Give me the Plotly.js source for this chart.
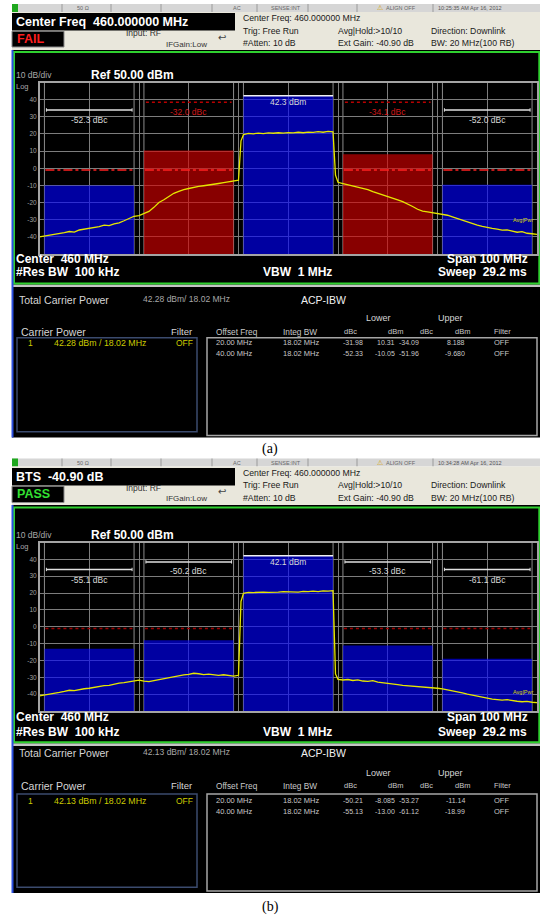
<!DOCTYPE html>
<html>
<head>
<meta charset="utf-8">
<script src="https://cdn.plot.ly/plotly-3.0.1.min.js"></script>
<style>
html,body{margin:0;padding:0;background:#ffffff;}
#chart{width:540px;height:917px;}
</style>
</head>
<body>
<div id="chart"></div>
<script>
// ================= DATA =================
const segmentCentersMHz = [420, 440, 460, 480, 500];
const integBwMHz = 18.02;
const limitDbm = -1;
const offsetFreqLabels = ['20.00 MHz', '40.00 MHz'];
const integBwLabels = ['18.02 MHz', '18.02 MHz'];
const filterLabels = ['OFF', 'OFF'];
const yTickVals = [40, 30, 20, 10, 0, -10, -20, -30, -40];
const yTickText = ['40', '30', '20', '10', '0', '-10', '-20', '-30', '-40'];

// panel (a)
const aCarrierDbm = 42.28;
const aLowerDbc = [-31.98, -52.33];
const aLowerDbm = [10.31, -10.05];
const aUpperDbc = [-34.09, -51.96];
const aUpperDbm = [8.188, -9.680];

// panel (b)
const bCarrierDbm = 42.13;
const bLowerDbc = [-50.21, -55.13];
const bLowerDbm = [-8.085, -13.00];
const bUpperDbc = [-53.27, -61.12];
const bUpperDbm = [-11.14, -18.99];

// spectrum traces
const traceFreqMHz = [410,411,412,413,414,415,416,417,418,419,420,421,422,423,424,425,426,427,428,429,430,
  431,432,433,434,435,436,437,438,439,440,441,442,443,444,445,446,447,448,449,450,450.5,
  451,452,453,454,455,456,457,458,459,460,461,462,463,464,465,466,467,468,469,469.5,
  470,471,472,473,474,475,476,477,478,479,480,481,482,483,484,485,486,487,488,489,490,
  491,492,493,494,495,496,497,498,499,500,501,502,503,504,505,506,507,508,509,510];
const aTraceDbm = [-40.0,-39.6,-39.0,-38.8,-38.0,-37.6,-36.9,-37.2,-36.0,-35.6,-35.2,-34.6,-34.0,-33.2,-33.5,-32.4,-31.8,-30.6,-29.5,-28.0,-27.6,
  -26.6,-25.2,-22.8,-20.0,-18.4,-16.3,-14.6,-13.5,-12.4,-11.8,-11.0,-10.6,-10.2,-9.9,-9.3,-8.9,-8.4,-7.9,-7.4,-7.0,16.0,
  19.6,20.3,20.1,20.5,20.2,20.6,20.4,20.7,20.5,20.8,20.6,21.0,20.7,21.1,20.9,21.3,21.0,21.5,21.2,-4.0,
  -8.2,-8.9,-9.6,-10.3,-11.0,-11.8,-12.5,-13.6,-14.5,-15.4,-16.3,-17.2,-18.4,-19.5,-20.8,-22.3,-23.9,-25.0,-25.4,-25.8,-26.2,
  -26.7,-27.4,-28.3,-29.3,-30.4,-31.4,-32.5,-33.2,-33.9,-34.6,-35.1,-35.5,-36.1,-36.0,-36.8,-37.3,-37.0,-37.9,-38.2,-38.5];
const bTraceDbm = [-41.0,-40.6,-40.2,-39.5,-39.0,-38.4,-37.7,-37.9,-37.2,-36.8,-36.5,-35.9,-35.6,-35.0,-34.8,-34.1,-33.5,-33.2,-32.6,-32.0,-31.7,
  -32.3,-32.6,-32.0,-31.4,-30.8,-30.2,-29.9,-29.0,-28.6,-28.3,-27.6,-27.9,-28.4,-28.1,-28.7,-28.9,-28.5,-29.1,-29.3,-28.8,15.0,
  19.8,20.4,20.3,20.6,20.5,20.4,20.7,20.6,20.8,20.7,20.9,20.6,21.0,20.8,21.1,20.9,21.3,21.1,21.4,-28.0,
  -31.2,-31.6,-31.3,-31.9,-31.5,-32.2,-32.4,-32.0,-32.8,-33.1,-33.5,-33.9,-34.3,-34.8,-35.0,-35.4,-35.6,-35.9,-36.1,-36.3,-36.5,
  -36.9,-37.4,-38.0,-38.6,-39.3,-40.0,-40.6,-41.3,-41.9,-42.4,-42.9,-43.2,-43.5,-43.3,-43.9,-44.2,-44.5,-44.3,-44.8,-45.0];

// ================= DRAWING =================
const FONT = 'Liberation Sans, Arial, sans-serif';
const W = 540, H = 917;
const PX = x => x / W;
const PY = y => 1 - y / H;
const shapes = [], annotations = [], traces = [];

function rect(x0, y0, x1, y1, fill, lineColor, lw, layer) {
  shapes.push({type:'rect', xref:'paper', yref:'paper', x0:PX(x0), x1:PX(x1), y0:PY(y1), y1:PY(y0),
    fillcolor: fill, line:{color: lineColor || 'rgba(0,0,0,0)', width: lw || 0}, layer: layer || 'below'});
}
function pline(x0, y0, x1, y1, color, w, layer) {
  shapes.push({type:'line', xref:'paper', yref:'paper', x0:PX(x0), x1:PX(x1), y0:PY(y0), y1:PY(y1),
    line:{color:color, width:w || 1}, layer: layer || 'below'});
}
function txt(x, y, text, size, color, anchor, family) {
  annotations.push({xref:'paper', yref:'paper', x:PX(x), y:PY(y), text:text, showarrow:false,
    xanchor: anchor || 'left', yanchor:'middle', borderpad:0,
    font:{family: family || FONT, size:size, color:color}});
}
function dline(xa, ya, x0, y0, x1, y1, color, w, dash, layer) {
  shapes.push({type:'line', xref:xa, yref:ya, x0:x0, x1:x1, y0:y0, y1:y1,
    line:{color:color, width:w, dash:dash || 'solid'}, layer: layer || 'above'});
}
const fmtDbm = v => v.toPrecision(4);

function drawScreen(p) {
  // status bar
  rect(12, p.st0, 540, p.st1, '#d6d6d6');
  rect(12, p.st0, 18, p.st1, '#1fa81f');
  [62, 111, 161, 212, 257, 308, 357, 433].forEach(x => pline(x, p.st0, x, p.st1, '#9a9a9a', 1));
  const sy = (p.st0 + p.st1) / 2;
  txt(76, sy, '50 Ω', 5.5, '#666');
  txt(232, sy, 'AC', 5.5, '#666');
  txt(270, sy, 'SENSE:INT', 5.5, '#666');
  txt(376, sy, '⚠', 7, '#d4a000');
  txt(385, sy, 'ALIGN OFF', 5.5, '#666');
  txt(437, sy, p.time, 5.5, '#555');
  // header
  rect(12, p.st1, 540, p.hd1, '#e9e7dc');
  rect(12, p.b0, 235, p.bm, '#000000');
  txt(15, (p.b0 + p.bm) / 2, '<b>' + p.boxText + '</b>', 12.5, '#ffffff');
  rect(12, p.bm + 0.7, 64, p.b1, '#000000', '#8a8a8a', 1);
  txt(15.5, (p.bm + p.b1) / 2 + 0.4, '<b>' + p.status + '</b>', 12.5, p.statusColor);
  txt(125, p.st1 + 21, 'Input: RF', 8.5, '#333');
  txt(165, p.st1 + 32, 'IFGain:Low', 8, '#333');
  txt(217, p.st1 + 25, '↩', 10, '#444', 'left', 'DejaVu Sans');
  txt(242, p.st1 + 6, 'Center Freq: 460.000000 MHz', 8.7, '#1a1a1a');
  txt(242, p.st1 + 19, 'Trig: Free Run', 8.7, '#1a1a1a');
  txt(242, p.st1 + 31, '#Atten: 10 dB', 8.7, '#1a1a1a');
  txt(337, p.st1 + 19, 'Avg|Hold:>10/10', 8.7, '#1a1a1a');
  txt(337, p.st1 + 31, 'Ext Gain: -40.90 dB', 8.7, '#1a1a1a');
  txt(430, p.st1 + 19, 'Direction: Downlink', 8.7, '#1a1a1a');
  txt(430, p.st1 + 31, 'BW: 20 MHz(100 RB)', 8.7, '#1a1a1a');
  // main black area
  rect(12, p.hd1, 540, p.tb1, '#000000');
  rect(12, p.g1 + 1, 540, p.g1 + 3.6, '#c4c4c4');
  rect(14, p.g0, 539.3, p.g1, 'rgba(0,0,0,0)', '#2fd02f', 2);
  pline(12.5, p.hd1, 12.5, p.tb1, '#2a4fe0', 2);
  // graph texts
  txt(15, p.div, '10 dB/div', 8.5, '#a8a8a8');
  txt(90, p.div, '<b>Ref 50.00 dBm</b>', 12, '#ffffff');
  txt(15, p.log, 'Log', 7.5, '#a8a8a8');
  txt(15, p.ctr, '<b>Center  460 MHz</b>', 12, '#ffffff');
  txt(15, p.res, '<b>#Res BW  100 kHz</b>', 12, '#ffffff');
  txt(262, p.res, '<b>VBW  1 MHz</b>', 12, '#ffffff');
  txt(446, p.ctr, '<b>Span 100 MHz</b>', 12, '#ffffff');
  txt(437, p.res, '<b>Sweep  29.2 ms</b>', 12, '#ffffff');
  // table
  txt(18, p.tcp, 'Total Carrier Power', 10.5, '#d6d6d6');
  txt(142, p.tcp - 1, p.carrier.toFixed(2) + ' dBm/ 18.02 MHz', 8.5, '#a8a8a8');
  txt(300, p.tcp, 'ACP-IBW', 10.5, '#f0f0f0');
  txt(365, p.low, 'Lower', 9, '#d6d6d6');
  txt(437, p.low, 'Upper', 9, '#d6d6d6');
  txt(20, p.hdr, 'Carrier Power', 10.5, '#d6d6d6');
  txt(170, p.hdr, 'Filter', 9.5, '#d6d6d6');
  txt(215, p.hdr, 'Offset Freq', 8.3, '#c8c8c8');
  txt(282, p.hdr, 'Integ BW', 8.3, '#c8c8c8');
  txt(358, p.hdr, 'dBc', 7.5, '#c8c8c8', 'right');
  txt(404, p.hdr, 'dBm', 7.5, '#c8c8c8', 'right');
  txt(434, p.hdr, 'dBc', 7.5, '#c8c8c8', 'right');
  txt(471, p.hdr, 'dBm', 7.5, '#c8c8c8', 'right');
  txt(493, p.hdr, 'Filter', 7.5, '#c8c8c8');
  rect(17, p.bx0, 197, p.bxL1, 'rgba(0,0,0,0)', '#3b4b6e', 1.5);
  rect(207, p.bx0, 537, p.bxR1, 'rgba(0,0,0,0)', '#a6a6a6', 1.5);
  txt(27, p.row0, '1', 8.5, '#cccc00');
  txt(53, p.row0, p.carrier.toFixed(2) + ' dBm / 18.02 MHz', 8.8, '#cccc00');
  txt(175, p.row0, 'OFF', 8.5, '#cccc00');
  [p.row0, p.row1].forEach((y, i) => {
    txt(215, y, offsetFreqLabels[i], 7.5, '#c8c8c8');
    txt(282, y, integBwLabels[i], 7.5, '#c8c8c8');
    txt(364, y, p.lowerDbc[i].toFixed(2), 7, '#c8c8c8', 'right');
    txt(396, y, fmtDbm(p.lowerDbm[i]), 7, '#c8c8c8', 'right');
    txt(420, y, p.upperDbc[i].toFixed(2), 7, '#c8c8c8', 'right');
    txt(466, y, fmtDbm(p.upperDbm[i]), 7, '#c8c8c8', 'right');
    txt(493, y, filterLabels[i], 7.5, '#c8c8c8');
  });
  txt(270, p.cap, p.caption, 14, '#000000', 'center', 'Liberation Serif, Times New Roman, serif');
}

function drawPanel(p, xa, ya) {
  const segDbm = [p.lowerDbm[1], p.lowerDbm[0], p.carrier, p.upperDbm[0], p.upperDbm[1]];
  const segDbc = [p.lowerDbc[1], p.lowerDbc[0], null, p.upperDbc[0], p.upperDbc[1]];
  const fail = segDbm.map((v, i) => i !== 2 && v > limitDbm);
  traces.push({type:'bar', x:segmentCentersMHz, y:segDbm.map(v => v + 50), base:-50, width:integBwMHz,
    xaxis:xa, yaxis:ya, hoverinfo:'skip',
    marker:{color: fail.map(f => f ? '#d80000' : '#0000ff'), opacity:0.63, line:{width:0}}});
  traces.push({type:'scatter', mode:'lines', x:traceFreqMHz, y:p.trace, xaxis:xa, yaxis:ya,
    hoverinfo:'skip', line:{color:'#e6e600', width:1.3}});
  segmentCentersMHz.forEach((c, i) => {
    const x0 = c - integBwMHz / 2, x1 = c + integBwMHz / 2;
    [x0, x1].forEach(x => dline(xa, ya, x, -50, x, 50, '#8c8c8c', 1, 'solid', 'below'));
    if (i === 2) {
      dline(xa, ya, x0, segDbm[i], x1, segDbm[i], '#f0f0f0', 1.6);
      annotations.push({xref:xa, yref:ya, x:c, y:38.5, text:segDbm[i].toFixed(1) + ' dBm', showarrow:false,
        font:{family:FONT, size:8.5, color:'#d8d8d8'}});
    } else {
      dline(xa, ya, x0 + 0.2, limitDbm, x1 - 0.2, limitDbm, p.limitColor, 1.5, p.limitDash);
      const outer = (i === 0 || i === 4);
      const my = outer ? 34 : 38.5;
      const col = fail[i] ? '#b80000' : '#e0e0e0';
      dline(xa, ya, x0 + 0.4, my, x1 - 0.4, my, col, 1.5, fail[i] ? 'dot' : 'solid');
      if (!fail[i]) {
        dline(xa, ya, x0 + 0.4, my - 1, x0 + 0.4, my + 1, col, 1);
        dline(xa, ya, x1 - 0.4, my - 1, x1 - 0.4, my + 1, col, 1);
      }
      annotations.push({xref:xa, yref:ya, x:c, y: outer ? 28 : 33, text:segDbc[i].toFixed(1) + ' dBc',
        showarrow:false, font:{family:FONT, size:8.5, color: fail[i] ? '#d01818' : '#d8d8d8'}});
    }
  });
  annotations.push({xref:xa, yref:ya, x:509.5, y:p.avgY, xanchor:'right', text:'Avg|Pwr', showarrow:false,
    font:{family:FONT, size:5.5, color:'#d8d800'}});
}

const panelA = {
  st0:4, st1:12, hd1:50, b0:13, bm:30.5, b1:47, g0:52, g1:283.5, tb1:437.5,
  div:75, log:86, ctr:259.3, res:271.7,
  tcp:300, low:317.5, hdr:331.7, bx0:337.7, bxL1:431.7, bxR1:435.5, row0:342.7, row1:353.3, cap:449,
  boxText:'Center Freq  460.000000 MHz', status:'FAIL', statusColor:'#ff1e1e',
  time:'10:25:35 AM Apr 16, 2012', caption:'(a)',
  carrier:aCarrierDbm, lowerDbc:aLowerDbc, lowerDbm:aLowerDbm, upperDbc:aUpperDbc, upperDbm:aUpperDbm,
  trace:aTraceDbm, limitColor:'#ff2020', limitDash:'dashdot', avgY:-30
};
const panelB = {
  st0:458.5, st1:466.5, hd1:505, b0:468, bm:485.5, b1:502.5, g0:507.5, g1:742.3, tb1:893,
  div:535, log:546, ctr:717.3, res:731.7,
  tcp:753.3, low:773, hdr:785.7, bx0:794, bxL1:887.3, bxR1:891, row0:800.7, row1:811, cap:907,
  boxText:'BTS  -40.90 dB', status:'PASS', statusColor:'#33e033',
  time:'10:34:28 AM Apr 16, 2012', caption:'(b)',
  carrier:bCarrierDbm, lowerDbc:bLowerDbc, lowerDbm:bLowerDbm, upperDbc:bUpperDbc, upperDbm:bUpperDbm,
  trace:bTraceDbm, limitColor:'#a00000', limitDash:'dot', avgY:-39
};

drawScreen(panelA);
drawScreen(panelB);
drawPanel(panelA, 'x', 'y');
drawPanel(panelB, 'x2', 'y2');

function xAxis(anchor) {
  return {domain:[PX(39.5), PX(537)], range:[410, 510], tick0:410, dtick:10, showgrid:true,
    gridcolor:'#7d7d7d', gridwidth:1, zeroline:false, showticklabels:false, ticks:'',
    showline:true, linecolor:'#a4a4a4', linewidth:1.5, mirror:true, fixedrange:true, anchor:anchor};
}
function yAxis(top, bot, anchor) {
  return {domain:[PY(bot), PY(top)], range:[-50, 50], tickmode:'array', tickvals:yTickVals, ticktext:yTickText,
    tickfont:{family:FONT, size:6.5, color:'#a0a0a0'}, showgrid:true, gridcolor:'#7d7d7d', gridwidth:1,
    zeroline:false, ticks:'', showline:true, linecolor:'#a4a4a4', linewidth:1.5, mirror:true,
    fixedrange:true, anchor:anchor};
}

const layout = {
  width:W, height:H, autosize:false, margin:{l:0, r:0, t:0, b:0},
  paper_bgcolor:'#ffffff', plot_bgcolor:'#000000', showlegend:false, barmode:'overlay',
  xaxis:xAxis('y'), yaxis:yAxis(82.5, 254, 'x'),
  xaxis2:xAxis('y2'), yaxis2:yAxis(542.5, 711, 'x2'),
  shapes:shapes, annotations:annotations
};

Plotly.newPlot('chart', traces, layout, {staticPlot:true, displayModeBar:false});
</script>
</body>
</html>
